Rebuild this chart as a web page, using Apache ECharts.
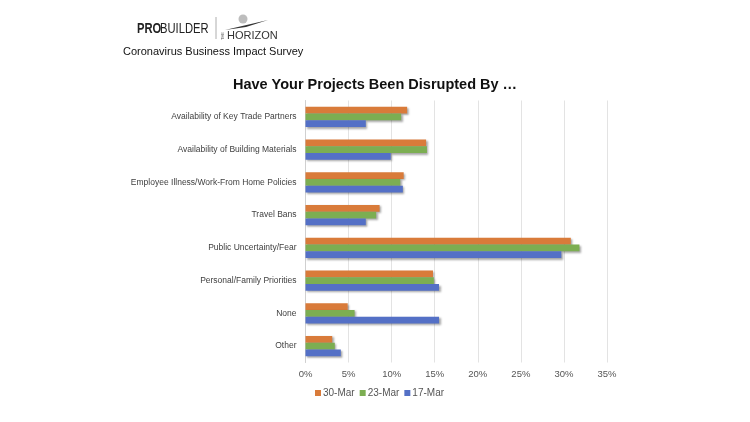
<!DOCTYPE html>
<html>
<head>
<meta charset="utf-8">
<script src="https://cdn.jsdelivr.net/npm/echarts@6/dist/echarts.min.js"></script>
<style>html,body{margin:0;padding:0;background:#fff}#c{width:750px;height:422px}</style>
</head>
<body>
<div id="c"></div>
<script>
const categories = ["Availability of Key Trade Partners","Availability of Building Materials","Employee Illness/Work-From Home Policies","Travel Bans","Public Uncertainty/Fear","Personal/Family Priorities","None","Other"];
const mar30 = [11.8, 14.0, 11.4, 8.6, 30.8, 14.8, 4.9, 3.1];
const mar23 = [11.1, 14.1, 11.0, 8.2, 31.8, 14.9, 5.7, 3.4];
const mar17 = [7.0, 9.9, 11.3, 7.0, 29.7, 15.5, 15.5, 4.1];
const seriesNames = ["30-Mar","23-Mar","17-Mar"];
const xTicks = [0,5,10,15,20,25,30,35];

const colors = ["#D97B3A","#7CAE52","#5470C6"];
const chart = echarts.init(document.getElementById('c'), null, {renderer:'canvas'});
const mk = (name, data, i) => ({
  name, type:'bar', data, barGap:'0%', barCategoryGap:'38%',
  itemStyle:{color:colors[i], shadowColor:'rgba(0,0,0,0.35)', shadowBlur:2, shadowOffsetX:1.5, shadowOffsetY:1.5},
  emphasis:{disabled:true}
});
chart.setOption({
  animation:false,
  textStyle:{fontFamily:'Liberation Sans, Arial, sans-serif'},
  title:{text:'Have Your Projects Been Disrupted By …', left:'center', top:72,
    textStyle:{fontSize:14.5, fontWeight:'bold', color:'#111', fontFamily:'Liberation Sans, Arial, sans-serif'}},
  legend:{data:seriesNames, left:310, top:383, itemWidth:6, itemHeight:6, itemGap:5,
    icon:'rect', textStyle:{fontSize:10, color:'#555', padding:[0,0,0,-3]}},
  grid:{left:305.5, right:143, top:100.5, bottom:59.5, containLabel:false},
  xAxis:{type:'value', min:xTicks[0], max:xTicks[xTicks.length-1], interval:5,
    axisLabel:{formatter: v => v + '%', fontSize:9.5, color:'#555', margin:7},
    splitLine:{lineStyle:{color:'#e3e3e3'}}, axisLine:{show:false}, axisTick:{show:false}},
  yAxis:{type:'category', data:categories, inverse:true,
    axisLine:{lineStyle:{color:'#d0d0d0'}}, axisTick:{show:false},
    axisLabel:{fontSize:8.5, color:'#404040', margin:9}},
  graphic:[
    {type:'text', x:137, y:22, scaleX:0.8, style:{text:'PRO', font:'bold 14px "Liberation Sans"', fill:'#222'}},
    {type:'text', x:160, y:22, scaleX:0.8, style:{text:'BUILDER', font:'14px "Liberation Sans"', fill:'#222'}},
    {type:'line', shape:{x1:216, y1:17, x2:216, y2:39}, style:{stroke:'#999', lineWidth:0.8}},
    {type:'circle', shape:{cx:243, cy:19, r:4.5}, style:{fill:'#bdbdbd'}},
    {type:'polygon', shape:{points:[[225,30],[268,20],[246,27]]}, style:{fill:'#333'}},
    {type:'text', x:221, y:40, rotation:Math.PI/2, style:{text:'THE', font:'4px Liberation Sans', fill:'#555'}},
    {type:'text', x:227, y:30, style:{text:'HORIZON', font:'11px Liberation Sans', fill:'#333'}},
    {type:'text', x:123, y:46, style:{text:'Coronavirus Business Impact Survey', font:'11px Liberation Sans', fill:'#111'}}
  ],
  series:[mk(seriesNames[0], mar30, 0), mk(seriesNames[1], mar23, 1), mk(seriesNames[2], mar17, 2)]
});
</script>
</body>
</html>
